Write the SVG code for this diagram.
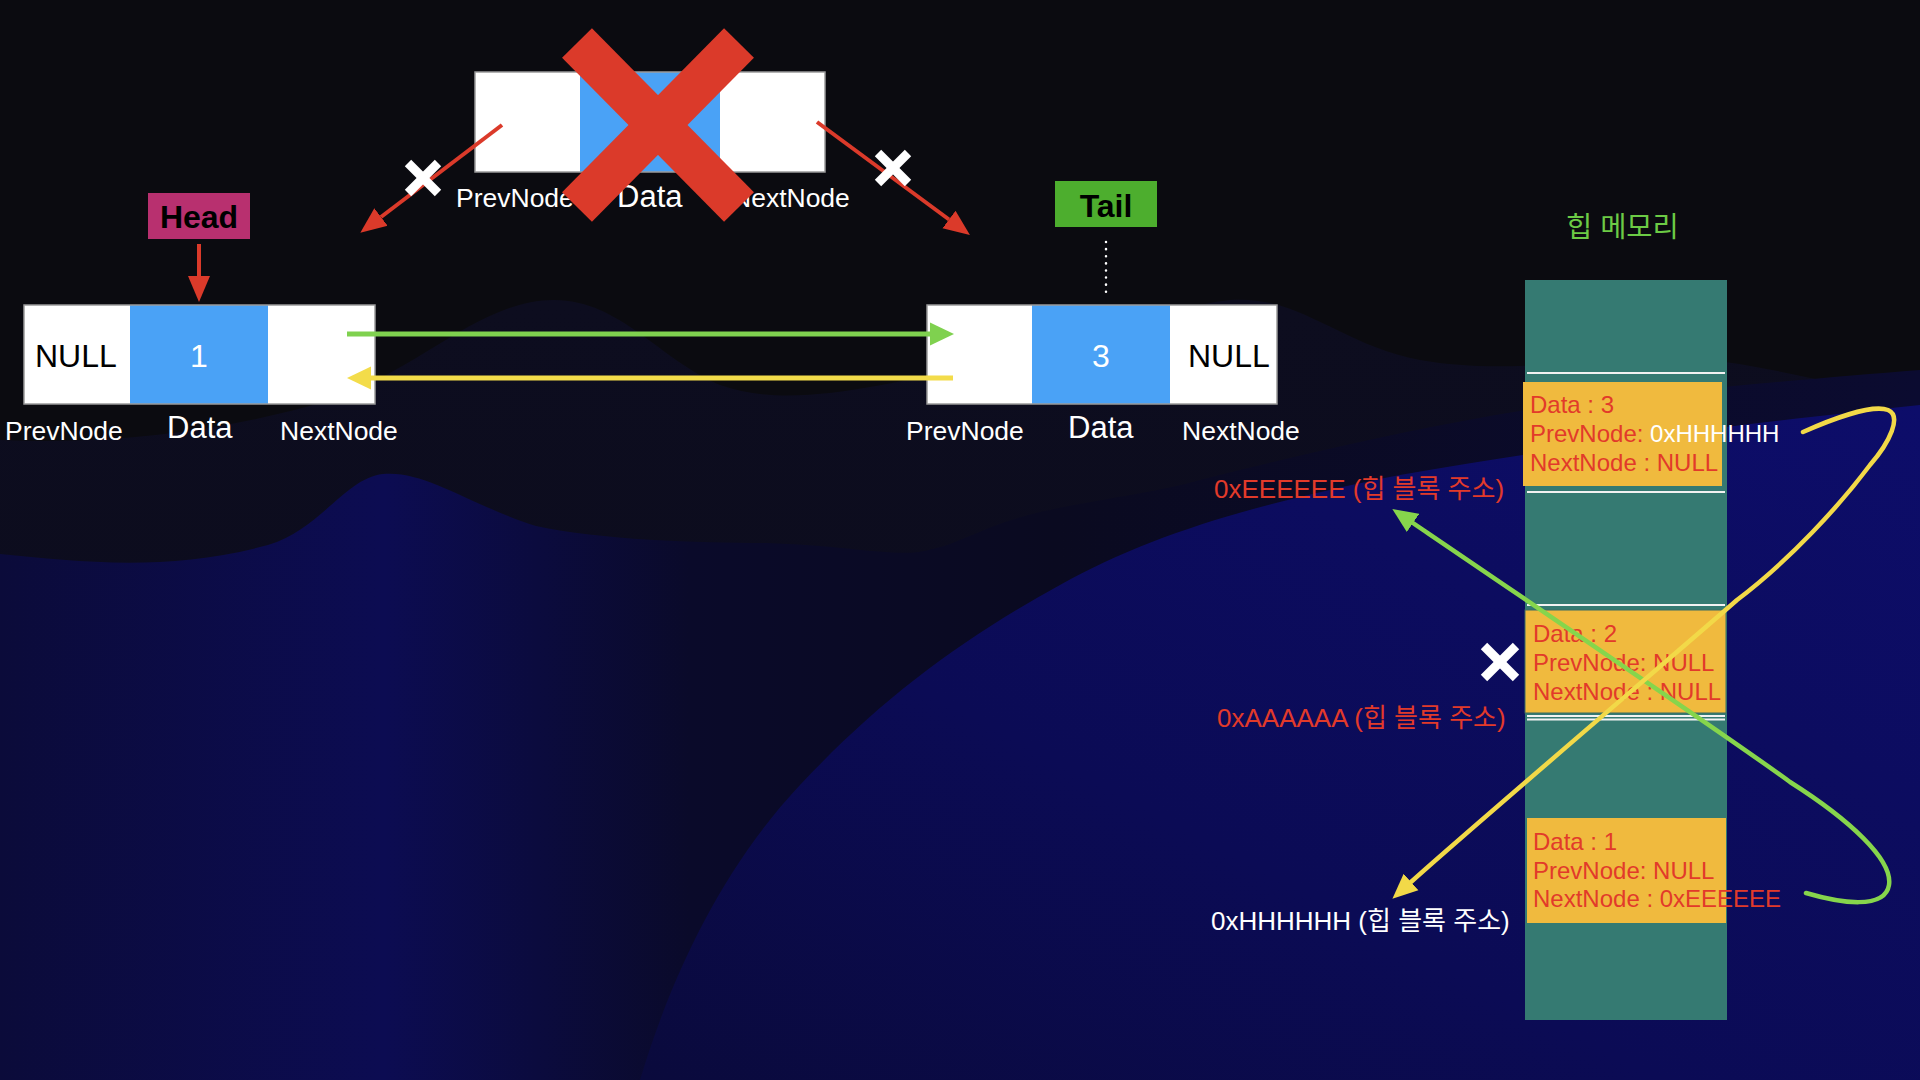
<svg xmlns="http://www.w3.org/2000/svg" width="1920" height="1080" viewBox="0 0 1920 1080">
<defs>
<style>
.lbl{font-family:"Liberation Sans","Noto Sans CJK KR",sans-serif;fill:#ffffff;font-size:26.5px}
.lblD{font-family:"Liberation Sans",sans-serif;fill:#ffffff;font-size:31px}
.big{font-family:"Liberation Sans",sans-serif;font-size:32px}
.tag{font-family:"Liberation Sans",sans-serif;font-size:32px;font-weight:bold;fill:#000000}
.heapTxt{font-family:"Liberation Sans",sans-serif;font-size:24px;fill:#E23A2A}
.addr{font-family:"Liberation Sans","Noto Sans CJK KR",sans-serif;font-size:26px}
.seg{stroke:none}
.frame{fill:none;stroke:#9a9a9a;stroke-width:1.5}
.xmark{stroke:#ffffff;stroke-width:9;stroke-linecap:butt}
.hline{stroke:#f2f2f2;stroke-width:2}
</style>
<marker id="arRed" markerUnits="userSpaceOnUse" markerWidth="27" markerHeight="24" refX="0" refY="12" orient="auto">
<path d="M0,1 L26,12 L0,23 Z" fill="#DB3A2A"/>
</marker>
<marker id="arGreen" markerUnits="userSpaceOnUse" markerWidth="25" markerHeight="25" refX="0" refY="12.5" orient="auto">
<path d="M0,1 L24,12.5 L0,24 Z" fill="#7FD14F"/>
</marker>
<marker id="arYellow" markerUnits="userSpaceOnUse" markerWidth="25" markerHeight="25" refX="0" refY="12.5" orient="auto">
<path d="M0,1 L24,12.5 L0,24 Z" fill="#F3DC4A"/>
</marker>
<marker id="arChalkG" markerUnits="userSpaceOnUse" markerWidth="26" markerHeight="24" refX="0" refY="12" orient="auto">
<path d="M0,1 L25,12 L0,23 Z" fill="#86D54C"/>
</marker>
<marker id="arChalkY" markerUnits="userSpaceOnUse" markerWidth="26" markerHeight="24" refX="0" refY="12" orient="auto">
<path d="M0,1 L25,12 L0,23 Z" fill="#F2D948"/>
</marker>
<linearGradient id="gMid" x1="0" y1="0" x2="1" y2="0">
<stop offset="0" stop-color="#0b0b3a"/>
<stop offset="0.2" stop-color="#0c0c52"/>
<stop offset="0.36" stop-color="#0a0a2a"/>
<stop offset="0.55" stop-color="#0a0a20"/>
<stop offset="1" stop-color="#0b0b30"/>
</linearGradient>
<linearGradient id="gRight" x1="1" y1="0" x2="0" y2="1">
<stop offset="0" stop-color="#0d0d6a"/>
<stop offset="0.6" stop-color="#0b0b55"/>
<stop offset="1" stop-color="#0a0a3c"/>
</linearGradient>
<linearGradient id="gFar" x1="0" y1="0" x2="0" y2="1">
<stop offset="0" stop-color="#0d0d1f"/>
<stop offset="1" stop-color="#0b0b1c"/>
</linearGradient>
</defs>

<g id="background">
<rect x="0" y="0" width="1920" height="1080" fill="#0b0b10"/>
<path d="M0,440 C120,445 230,430 330,400 C420,370 480,300 554,300 C620,300 660,360 720,385 C790,410 880,385 980,365 C1080,345 1150,310 1230,300 C1300,295 1340,345 1420,360 C1520,378 1620,350 1725,362 C1800,372 1860,395 1920,388 L1920,1080 L0,1080 Z" fill="url(#gFar)"/>
<path d="M0,554 C80,562 170,572 268,545 C320,530 345,478 383,474 C425,470 470,505 536,526 C600,540 700,543 765,543 C840,545 890,556 918,552 C960,546 975,528 1040,512 C1110,497 1160,492 1200,480 C1320,450 1450,420 1560,405 C1700,388 1820,378 1920,370 L1920,1080 L0,1080 Z" fill="url(#gMid)"/>
<path d="M640,1080 C670,980 720,870 800,785 C880,700 960,640 1060,585 C1150,535 1250,505 1400,475 C1600,440 1780,420 1920,405 L1920,1080 Z" fill="url(#gRight)"/>
</g>

<g id="node-deleted">
<rect class="seg" x="475" y="72" width="105" height="100" fill="#ffffff"/>
<rect class="seg" x="580" y="72" width="140" height="100" fill="#4AA2F6"/>
<rect class="seg" x="720" y="72" width="105" height="100" fill="#ffffff"/>
<rect class="frame" x="475" y="72" width="350" height="100"/>
<text class="lbl" x="456" y="207">PrevNode</text>
<text class="lblD" x="617" y="207">Data</text>
<text class="lbl" x="732" y="207">NextNode</text>
</g>

<g id="node-head-1">
<rect class="seg" x="24" y="305" width="106" height="99" fill="#ffffff"/>
<rect class="seg" x="130" y="305" width="138" height="99" fill="#4AA2F6"/>
<rect class="seg" x="268" y="305" width="107" height="99" fill="#ffffff"/>
<rect class="frame" x="24" y="305" width="351" height="99"/>
<text class="big" x="35" y="367" fill="#000000">NULL</text>
<text class="big" x="199" y="367" fill="#ffffff" text-anchor="middle">1</text>
<text class="lbl" x="5" y="440">PrevNode</text>
<text class="lblD" x="167" y="438">Data</text>
<text class="lbl" x="280" y="440">NextNode</text>
</g>

<g id="node-tail-3">
<rect class="seg" x="927" y="305" width="105" height="99" fill="#ffffff"/>
<rect class="seg" x="1032" y="305" width="138" height="99" fill="#4AA2F6"/>
<rect class="seg" x="1170" y="305" width="107" height="99" fill="#ffffff"/>
<rect class="frame" x="927" y="305" width="350" height="99"/>
<text class="big" x="1101" y="367" fill="#ffffff" text-anchor="middle">3</text>
<text class="big" x="1188" y="367" fill="#000000">NULL</text>
<text class="lbl" x="906" y="440">PrevNode</text>
<text class="lblD" x="1068" y="438">Data</text>
<text class="lbl" x="1182" y="440">NextNode</text>
</g>

<g id="label-head">
<rect x="148" y="193" width="102" height="46" fill="#B8306F"/>
<text class="tag" x="199" y="228" text-anchor="middle">Head</text>
</g>

<g id="label-tail">
<rect x="1055" y="181" width="102" height="46" fill="#4DAE2E"/>
<text class="tag" x="1106" y="217" text-anchor="middle">Tail</text>
</g>

<g id="heap-memory">
<text x="1566" y="237" font-family="'Liberation Sans','Noto Sans CJK KR',sans-serif" font-size="28.5" fill="#6CCB45">힙 메모리</text>
<rect x="1525" y="280" width="202" height="740" fill="#357A72"/>
<line class="hline" x1="1527" y1="373" x2="1725" y2="373"/>
<line class="hline" x1="1527" y1="492" x2="1725" y2="492"/>
<line class="hline" x1="1527" y1="605" x2="1725" y2="605"/>
<line class="hline" x1="1527" y1="716" x2="1725" y2="716"/>
<line class="hline" x1="1527" y1="719.5" x2="1725" y2="719.5"/>
</g>

<g id="heap-block-3">
<rect x="1523" y="382" width="199" height="104" fill="#F0BA3E"/>
<text class="heapTxt" x="1530" y="413">Data : 3</text>
<text class="heapTxt" x="1530" y="442">PrevNode: <tspan fill="#ffffff">0xHHHHHH</tspan></text>
<text class="heapTxt" x="1530" y="471">NextNode : NULL</text>
</g>

<g id="heap-block-2">
<rect x="1525" y="610" width="201" height="103" fill="#F0BA3E" stroke="#3c6d62" stroke-width="1"/>
<text class="heapTxt" x="1533" y="642">Data : 2</text>
<text class="heapTxt" x="1533" y="671">PrevNode: NULL</text>
<text class="heapTxt" x="1533" y="700">NextNode : NULL</text>
</g>

<g id="heap-block-1">
<rect x="1527" y="818" width="199" height="105" fill="#F0BA3E"/>
<text class="heapTxt" x="1533" y="850">Data : 1</text>
<text class="heapTxt" x="1533" y="879">PrevNode: NULL</text>
<text class="heapTxt" x="1533" y="907">NextNode : 0xEEEEEE</text>
</g>

<g id="address-labels">
<text class="addr" x="1214" y="498" fill="#E23A2A">0xEEEEEE (힙 블록 주소)</text>
<text class="addr" x="1217" y="727" fill="#E23A2A">0xAAAAAA (힙 블록 주소)</text>
<text class="addr" x="1211" y="930" fill="#ffffff">0xHHHHHH (힙 블록 주소)</text>
</g>

<g id="connectors">
<line x1="199" y1="244" x2="199" y2="276" stroke="#DB3A2A" stroke-width="4" marker-end="url(#arRed)"/>
<line x1="1106" y1="242" x2="1106" y2="298" stroke="#ffffff" stroke-width="2.5" stroke-dasharray="0.1 7" stroke-linecap="round"/>
<line x1="347" y1="334" x2="930" y2="334" stroke="#7FD14F" stroke-width="5" marker-end="url(#arGreen)"/>
<line x1="953" y1="378" x2="371" y2="378" stroke="#F3DC4A" stroke-width="5" marker-end="url(#arYellow)"/>
<line x1="502" y1="125" x2="381" y2="217" stroke="#DB3A2A" stroke-width="4" marker-end="url(#arRed)"/>
<line x1="817" y1="122" x2="949" y2="219.5" stroke="#DB3A2A" stroke-width="4" marker-end="url(#arRed)"/>
<path d="M1806,893 C1840,903 1885,910 1889,885 C1893,860 1850,820 1790,782 C1740,745 1600,650 1413,523" fill="none" stroke="#86D54C" stroke-width="4.5" stroke-linecap="round" marker-end="url(#arChalkG)"/>
<path d="M1803,432 C1830,420 1872,404 1888,410 C1902,416 1890,442 1870,465 C1840,505 1790,560 1737,600 C1680,650 1480,820 1411,882" fill="none" stroke="#F2D948" stroke-width="4.5" stroke-linecap="round" marker-end="url(#arChalkY)"/>
</g>

<g id="delete-marks">
<line x1="577" y1="43" x2="739" y2="207" stroke="#DB3A2A" stroke-width="42"/>
<line x1="739" y1="43" x2="577" y2="207" stroke="#DB3A2A" stroke-width="42"/>
<g transform="translate(423,178)"><line class="xmark" x1="-15" y1="-15" x2="15" y2="15"/><line class="xmark" x1="15" y1="-15" x2="-15" y2="15"/></g>
<g transform="translate(893,168)"><line class="xmark" x1="-15" y1="-15" x2="15" y2="15"/><line class="xmark" x1="15" y1="-15" x2="-15" y2="15"/></g>
<g transform="translate(1500,662)"><line class="xmark" x1="-16" y1="-16" x2="16" y2="16"/><line class="xmark" x1="16" y1="-16" x2="-16" y2="16"/></g>
</g>
</svg>
